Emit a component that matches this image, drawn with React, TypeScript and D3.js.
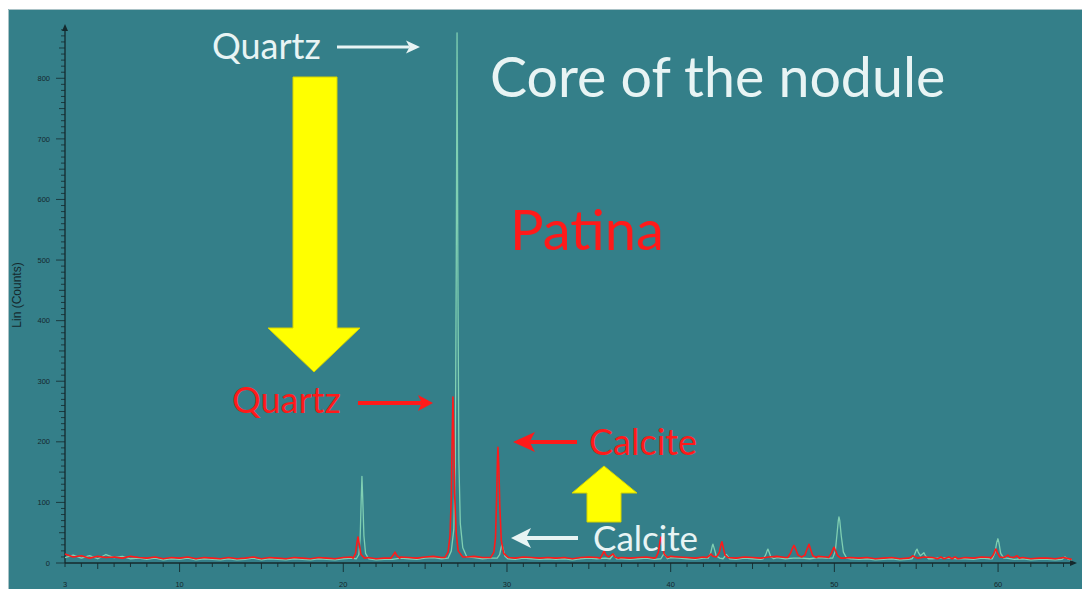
import React from 'react';
import * as d3 from 'd3';

const W = 1082, H = 589;
const teal = '#347f89', red = '#ff1a1a', green = '#7fcfb2', white = '#e8f4f4', yellow = '#ffff00', ink = '#14292d';

// 2-theta axis labels and count axis labels
const xLabels = [3, 10, 20, 30, 40, 50, 60];
const yLabels = [0, 100, 200, 300, 400, 500, 600, 700, 800];

// background noise, one reading every 0.5 deg from 3 deg
const baseStart = 3, baseStep = 0.5;
const redBase = [
  15,10,12,8,11,9,10,8,11,9,
  8,10,7,9,8,10,7,9,8,7,
  9,7,8,10,7,9,8,7,9,8,
  7,9,8,7,9,10,8,9,7,8,
  8,10,9,8,10,11,9,10,11,10,
  11,9,10,12,9,8,10,9,8,9,
  8,9,7,9,10,9,10,11,9,8,
  9,10,8,9,11,10,9,8,10,9,
  11,9,8,10,9,8,10,11,9,10,
  10,9,11,10,9,8,9,8,9,7,
  8,9,7,8,9,10,9,11,10,9,
  9,8,10,9,11,10,8,9,7,8,
  8,7,9,6];
const greenBase = [
  9,13,8,12,7,14,9,11,7,8,
  6,8,5,7,6,8,5,7,6,5,
  7,5,6,8,5,7,6,5,7,6,
  5,7,6,5,7,8,6,7,5,6,
  6,8,7,6,8,9,7,8,9,8,
  9,7,8,10,7,6,8,7,6,7,
  6,7,5,7,8,7,8,9,7,6,
  7,8,6,7,9,8,7,6,8,7,
  9,7,6,8,7,6,8,9,7,8,
  8,7,9,8,7,6,7,6,7,5,
  6,7,5,6,7,8,7,9,8,7,
  7,6,8,7,9,8,6,7,5,6,
  6,5,7,5];

// patina (red) peaks: [2theta, counts]
const redPeaks: number[][][] = [
  [[20.6,8],[20.75,16],[20.84,34],[20.9,43],[20.97,32],[21.08,14],[21.3,8]],
  [[22.9,8],[23.05,13],[23.16,18],[23.27,12],[23.45,8]],
  [[26.2,9],[26.4,18],[26.52,45],[26.6,110],[26.65,200],[26.7,274],[26.75,205],[26.8,115],[26.9,48],[27.02,20],[27.3,10]],
  [[29.0,9],[29.2,18],[29.3,42],[29.37,110],[29.42,170],[29.45,191],[29.5,160],[29.56,95],[29.65,38],[29.8,16],[30.1,9]],
  [[35.7,8],[35.83,14],[35.93,20],[36.05,13],[36.2,10],[36.38,13],[36.48,15],[36.6,10],[36.8,8]],
  [[39.1,9],[39.25,18],[39.35,36],[39.41,43],[39.48,33],[39.6,15],[39.8,9]],
  [[42.2,9],[42.36,12],[42.46,15],[42.58,11],[42.8,10],[42.98,18],[43.07,30],[43.13,35],[43.2,27],[43.32,13],[43.5,9]],
  [[47.15,9],[47.32,16],[47.45,25],[47.53,29],[47.62,24],[47.78,13],[48.0,10],[48.2,13],[48.36,25],[48.45,31],[48.53,24],[48.68,12],[48.9,9]],
  [[49.65,9],[49.82,16],[49.92,23],[49.98,26],[50.06,21],[50.2,12],[50.4,8]],
  [[54.55,8],[54.7,10],[54.8,12],[54.92,10],[55.1,8]],
  [[56.3,7],[56.51,10],[56.7,7]],
  [[57.2,7],[57.37,10],[57.55,7]],
  [[59.55,8],[59.72,14],[59.82,21],[59.87,23],[59.95,18],[60.1,10],[60.35,9],[60.5,11],[60.6,13],[60.72,10],[60.95,9],[61.08,11],[61.16,12],[61.3,8]],
];

// core of the nodule (green) peaks
const greenPeaks: number[][][] = [
  [[20.8,7],[20.95,14],[21.03,40],[21.09,100],[21.14,143],[21.19,105],[21.26,45],[21.36,16],[21.55,7]],
  [[26.4,8],[26.6,20],[26.75,55],[26.84,160],[26.9,480],[26.95,875],[27.0,490],[27.06,170],[27.15,65],[27.3,25],[27.55,10]],
  [[29.4,8],[29.55,14],[29.65,26],[29.7,30],[29.76,24],[29.88,11],[30.05,7]],
  [[36.3,7],[36.5,14],[36.7,7]],
  [[39.4,7],[39.6,16],[39.8,7]],
  [[42.3,8],[42.45,17],[42.54,28],[42.58,31],[42.65,25],[42.78,12],[43.0,8]],
  [[43.2,7],[43.4,14],[43.6,7]],
  [[45.65,7],[45.8,13],[45.89,20],[45.94,23],[46.0,19],[46.12,10],[46.3,7]],
  [[49.9,8],[50.06,20],[50.17,50],[50.24,70],[50.28,76],[50.33,70],[50.42,45],[50.55,18],[50.75,8]],
  [[54.75,7],[54.9,14],[55.0,21],[55.05,23],[55.12,18],[55.25,12],[55.38,15],[55.47,17],[55.56,12],[55.75,7]],
  [[59.65,7],[59.8,16],[59.92,34],[59.99,40],[60.05,34],[60.16,16],[60.35,8]],
  [[63.9,6],[64.09,10],[64.3,6]],
];

function buildSeries(base: number[], peaks: number[][][]) {
  const pts: number[][] = [];
  base.forEach((v, i) => {
    const x = baseStart + i * baseStep;
    if (!peaks.some(p => x >= p[0][0] && x <= p[p.length - 1][0])) pts.push([x, v]);
  });
  peaks.forEach(p => p.forEach(q => pts.push(q)));
  return pts.sort((a, b) => a[0] - b[0]);
}

const x = d3.scaleLinear().domain([3, 64.7]).range([65, 1075]);
const y = d3.scaleLinear().domain([0, 883]).range([563, 28]);
const line = d3.line<number[]>().x(d => x(d[0])).y(d => y(d[1]));

const redPath = line(buildSeries(redBase, redPeaks)) || '';
const greenPath = line(buildSeries(greenBase, greenPeaks)) || '';

const font = 'Lato, "Open Sans", sans-serif';

function hArrow(x1: number, x2: number, yy: number, head: number, half: number) {
  // shaft from x1 to the head, tip at x2
  const dir = x2 > x1 ? 1 : -1;
  const back = x2 - dir * head;
  const notch = x2 - dir * head * 0.75;
  return {
    shaft: `M${x1},${yy}L${notch},${yy}`,
    head: `M${x2},${yy}L${back},${yy - half}L${notch},${yy}L${back},${yy + half}Z`,
  };
}

export default function App() {
  const a1 = hArrow(337, 420, 47, 14, 6.5);
  const a2 = hArrow(358, 433, 403, 15, 8);
  const a3 = hArrow(577, 513, 442, 22, 10);
  const a4 = hArrow(578, 511, 538, 20, 10);
  const xt = d3.range(3, 65, 1);
  const yt = d3.range(0, 881, 10);
  return (
    <svg width={W} height={H} style={{ position: 'absolute', left: 0, top: 0 }}>
      <rect x={0} y={0} width={W} height={H} fill="#ffffff" />
      <rect x={8} y={9} width={W - 8} height={H - 9} fill={teal} />
      <path d={`M8.5,${H}V9.5H${W}`} fill="none" stroke="#c9d3d5" strokeWidth={0.8} />

      {/* axes */}
      <g stroke={ink} strokeWidth={1}>
        <line x1={x(3)} x2={x(64.7)} y1={y(0)} y2={y(0)} strokeWidth={1.3} />
        <line x1={x(3)} x2={x(3)} y1={y(0)} y2={y(883)} strokeWidth={1.3} />
        {yt.map(v => (
          <line key={'y' + v} x1={x(3) - (v % 100 === 0 ? 9 : v % 50 === 0 ? 6 : 4)} x2={x(3)} y1={y(v)} y2={y(v)} strokeWidth={0.8} />
        ))}
        {xt.map(v => (
          <line key={'x' + v} x1={x(v)} x2={x(v)} y1={y(0)} y2={y(0) + (v % 10 === 0 ? 9 : v % 5 === 0 ? 6 : 4)} strokeWidth={0.9} />
        ))}
      </g>
      <path d={`M${x(3)},${y(883) - 4}l-3,7h6Z`} fill={ink} />
      <path d={`M${x(64.7) + 2},${y(0)}l-7,-3v6Z`} fill={ink} />
      <g fill={ink} fontFamily="Liberation Sans, Arial, sans-serif" fontSize={7.5}>
        {yLabels.map(v => (
          <text key={v} x={50} y={y(v)} dy="0.35em" textAnchor="end">{v}</text>
        ))}
        {xLabels.map(v => (
          <text key={v} x={x(v)} y={587} textAnchor="middle">{v}</text>
        ))}
      </g>
      <text transform="translate(21,295) rotate(-90)" textAnchor="middle" fill={ink} fontFamily="Liberation Sans, Arial, sans-serif" fontSize={12}>Lin (Counts)</text>

      {/* diffractograms */}
      <path d={greenPath} fill="none" stroke={green} strokeWidth={1.3} strokeLinejoin="round" />
      <path d={redPath} fill="none" stroke={red} strokeWidth={1.6} strokeLinejoin="round" />

      {/* annotations */}
      <text x={490} y={97} fill={white} fontFamily={font} fontSize={55.5}>Core of the nodule</text>
      <text x={510} y={250} fill={red} fontFamily={font} fontSize={56}>Patina</text>

      <text x={212} y={59} fill={white} fontFamily={font} fontSize={36}>Quartz</text>
      <path d={a1.shaft} stroke={white} strokeWidth={3} />
      <path d={a1.head} fill={white} />

      <text x={232} y={413} fill={red} fontFamily={font} fontSize={36}>Quartz</text>
      <path d={a2.shaft} stroke={red} strokeWidth={4} />
      <path d={a2.head} fill={red} />

      <path d={a3.shaft} stroke={red} strokeWidth={4} />
      <path d={a3.head} fill={red} />
      <text x={589} y={455} fill={red} fontFamily={font} fontSize={36}>Calcite</text>

      <path d={a4.shaft} stroke={white} strokeWidth={4} />
      <path d={a4.head} fill={white} />
      <text x={593} y={551} fill={white} fontFamily={font} fontSize={35}>Calcite</text>

      <path d="M293,77H337V328H360L314,372L268,328H293Z" fill={yellow} stroke="#d4d400" strokeWidth={1} />
      <path d="M587,522V493H572L604,466L637,493H621V522Z" fill={yellow} stroke="#d4d400" strokeWidth={1} />
    </svg>
  );
}
